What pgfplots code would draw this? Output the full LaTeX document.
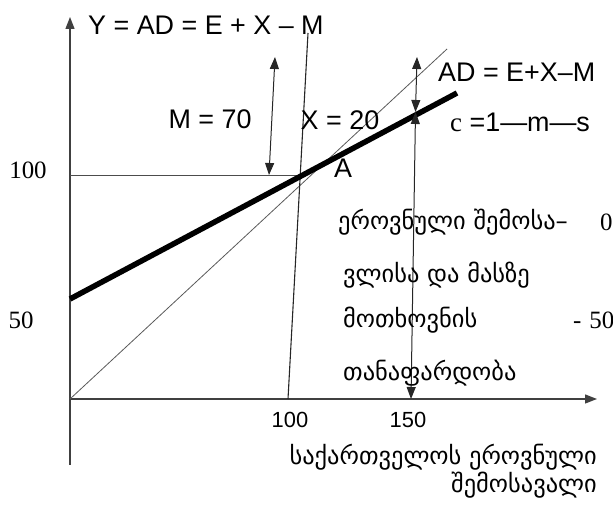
\documentclass[border=0pt]{standalone}
\usepackage{fontspec}
\setmainfont{Liberation Serif}
\setsansfont{Liberation Sans}
\newfontfamily\geo[Script=Georgian]{DejaVu Sans}
\usepackage{pgfplots}
\pgfplotsset{compat=1.18}
\usetikzlibrary{arrows.meta}

\begin{document}
\begin{tikzpicture}[
  tip/.style={-{Triangle[length=12bp,width=9bp]}},
  dtip/.style={{Triangle[length=12bp,width=9bp]}-{Triangle[length=12bp,width=9bp]}},
  lbl/.style={font=\sffamily\fontsize{27}{32}\selectfont,inner sep=0pt},
  num/.style={font=\rmfamily\fontsize{25}{30}\selectfont,inner sep=0pt},
  gtxt/.style={font=\geo\fontsize{24.5}{29}\selectfont,inner sep=0pt,anchor=west}]
\begin{axis}[x=1bp,y=1bp,xmin=-70,xmax=543,ymin=-106,ymax=399,
  hide axis,clip=false]
% axes
\addplot[draw=black!75,line width=1.3bp,tip] coordinates {(0,-66) (0,382)};
\addplot[draw=black!75,line width=1.3bp,tip] coordinates {(0,0) (527,0)};
% level Y = 100
\addplot[draw=black!70,line width=1bp] coordinates {(0,223) (230,223)};
% 45 degree line
\addplot[draw=black!65,line width=0.8bp] coordinates {(0,0) (377,350)};
% steep line
\addplot[draw=black!85,line width=1.1bp] coordinates {(218,0) (238,366)};
% AD = E+X-M
\addplot[black,line width=5.5bp] coordinates {(0,100) (387,306)};
% arrows
\addplot[black!85,line width=1bp,dtip] coordinates {(205,342) (199,224)};
\addplot[black!85,line width=1bp,dtip] coordinates {(347,342) (345.5,287)};
\addplot[black!85,line width=1bp,dtip] coordinates {(345.5,287) (341,0)};

% labels
\node[lbl,anchor=west] at (axis cs:18,374) {Y = AD = E + X – M};
\node[lbl,anchor=west] at (axis cs:368,327) {AD = E+X–M};
\node[lbl] at (axis cs:140,280) {M = 70};
\node[lbl] at (axis cs:270,279) {X = 20};
\node[lbl] at (axis cs:273,231) {A};
\node[lbl,anchor=west] at (axis cs:380,277) {{\rmfamily c} =1—m—s};
\node[num] at (axis cs:-42,229) {100};
\node[num] at (axis cs:-49,79) {50};
\node[lbl,font=\sffamily\fontsize{22}{26}\selectfont] at (axis cs:220,-21) {100};
\node[lbl,font=\sffamily\fontsize{22}{26}\selectfont] at (axis cs:338,-21) {150};
\node[gtxt] at (axis cs:268,177) {ეროვნული შემოსა–};
\node[num,anchor=west] at (axis cs:530,177) {0};
\node[gtxt] at (axis cs:273,124) {ვლისა და მასზე};
\node[gtxt] at (axis cs:273,79) {მოთხოვნის};
\node[num,anchor=west] at (axis cs:503,79) {-\hspace{8bp}50};
\node[gtxt] at (axis cs:273,26) {თანაფარდობა};
\node[gtxt,anchor=east] at (axis cs:527,-58) {საქართველოს ეროვნული};
\node[gtxt,anchor=east] at (axis cs:527,-86) {შემოსავალი};
\coordinate (bl) at (axis cs:-70,-106);
\coordinate (tr) at (axis cs:543,399);
\end{axis}
\pgfresetboundingbox
\useasboundingbox (bl) rectangle (tr);
\end{tikzpicture}
\end{document}
